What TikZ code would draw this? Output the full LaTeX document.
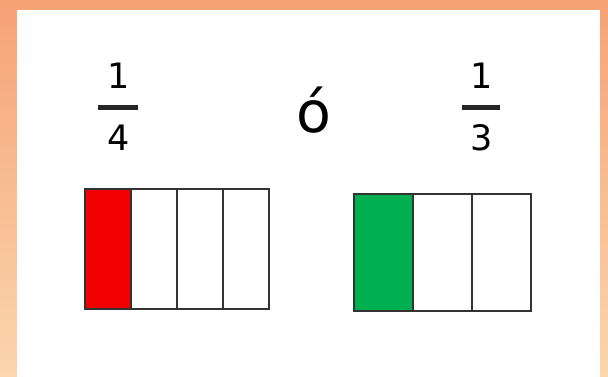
\documentclass[tikz,border=0pt]{standalone}
\usepackage{fontspec}
\setmainfont{DejaVu Sans}
\usepackage{xcolor}
\usepackage{tikz}
\usetikzlibrary{calc}
\definecolor{frameTop}{HTML}{F6A275}
\definecolor{frameBot}{HTML}{FBD6AE}
\definecolor{partRed}{HTML}{F20000}
\definecolor{partGreen}{HTML}{00B050}
\definecolor{lineGray}{HTML}{333333}
\tikzset{
  digit/.style={anchor=base,inner sep=0pt,font=\fontsize{35}{40}\selectfont},
  fracbar/.style={line width=4.5pt,black!85},
  cell/.style={draw=lineGray,line width=1.7pt,minimum height=#1,anchor=north west,inner sep=0pt,outer sep=0pt},
}
\begin{document}
\begin{tikzpicture}[x=1pt,y=-1pt]
\useasboundingbox (0,0) rectangle (608,377);
% frame and panel
\shade[top color=frameTop,bottom color=frameBot] (0,0) rectangle (608,377);
\fill[white] (17,10) rectangle (600,377);
% fractions
\node[digit] (numA) at (119,89) {1};
\node[digit] (denA) at (119,151) {4};
\draw[fracbar] (98,107.5) -- (138,107.5);
\node[digit] (numB) at (482,89) {1};
\node[digit] (denB) at (482,151) {3};
\draw[fracbar] (462,107.5) -- (500,107.5);
\node[anchor=base,inner sep=0pt,font=\fontsize{57}{60}\selectfont] (orw) at (314,133) {ó};
% one quarter
\foreach \i in {0,...,3}
  \node[cell=120pt,minimum width=46pt,fill=white] (qa\i) at ({85+46*\i},189) {};
\node[cell=120pt,minimum width=46pt,fill=partRed] at (qa0.north west) {};
% one third
\foreach \i in {0,...,2}
  \node[cell=117pt,minimum width=59pt,fill=white] (qb\i) at ({354+59*\i},194) {};
\node[cell=117pt,minimum width=59pt,fill=partGreen] at (qb0.north west) {};
\end{tikzpicture}
\end{document}
